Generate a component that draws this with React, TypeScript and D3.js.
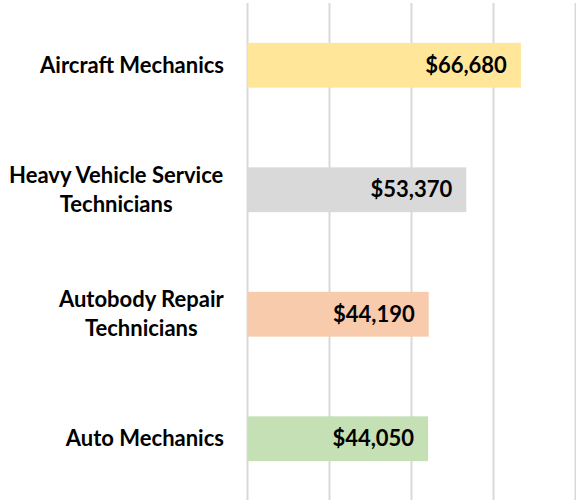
import React from "react";
import * as d3 from "d3";

const categories = [
  ["Aircraft Mechanics"],
  ["Heavy Vehicle Service", "Technicians"],
  ["Autobody Repair", "Technicians"],
  ["Auto Mechanics"],
];
const values = [66680, 53370, 44190, 44050];
const colors = ["#FFE699", "#D9D9D9", "#F8CBAD", "#C5E0B4"];
const ticks = [0, 20000, 40000, 60000, 80000];

const W = 576;
const H = 500;
const FONT = "Lato, 'Open Sans', sans-serif";
const LABEL_SIZE = 22;

let ctx: CanvasRenderingContext2D | null = null;
function measure(s: string, size: number) {
  if (!ctx) ctx = document.createElement("canvas").getContext("2d");
  if (!ctx) return s.length * size * 0.5;
  ctx.font = `bold ${size}px Lato`;
  return ctx.measureText(s).width;
}

export default function App() {
  const x = d3.scaleLinear().domain([0, 80000]).range([247.5, 575.5]);
  const y = d3
    .scaleBand<number>()
    .domain(d3.range(categories.length))
    .range([3, 501])
    .paddingInner(0.64)
    .paddingOuter(0.32);
  const fmt = (v: number) => "$" + d3.format(",")(v);
  const labelRight = 224;

  return (
    <svg
      width={W}
      height={H}
      style={{ position: "absolute", left: 0, top: 0, background: "#fff" }}
      fontFamily={FONT}
    >
      {ticks.map((t) => (
        <line
          key={t}
          x1={x(t)}
          x2={x(t)}
          y1={3}
          y2={H}
          stroke="#D9D9D9"
          strokeWidth={2}
        />
      ))}
      {values.map((v, i) => {
        const by = y(i)!;
        const bh = y.bandwidth();
        const cy = by + bh / 2;
        const lines = categories[i];
        const lh = 29;
        const maxW = Math.max(...lines.map((l) => measure(l, LABEL_SIZE)));
        const cx = labelRight - maxW / 2;
        return (
          <g key={i}>
            <rect x={x(0)} y={by} width={x(v) - x(0)} height={bh} fill={colors[i]} />
            <text
              x={x(v) - 14}
              y={cy}
              dy="0.35em"
              textAnchor="end"
              fontSize={22}
              fontWeight="bold"
              fill="#000"
            >
              {fmt(v)}
            </text>
            {lines.map((l, j) => (
              <text
                key={j}
                x={cx}
                y={cy + (j - (lines.length - 1) / 2) * lh}
                dy="0.35em"
                textAnchor="middle"
                fontSize={LABEL_SIZE}
                fontWeight="bold"
                fill="#000"
              >
                {l}
              </text>
            ))}
          </g>
        );
      })}
    </svg>
  );
}
